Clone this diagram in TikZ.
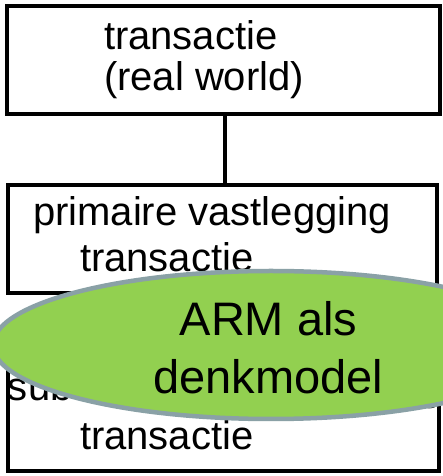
\documentclass[tikz,border=0pt]{standalone}
\usepackage{fontspec}
\setmainfont{Liberation Sans}
\usetikzlibrary{shapes.geometric}
\definecolor{armgreen}{RGB}{146,208,80}
\definecolor{armborder}{RGB}{138,161,166}
\tikzset{
  boxnode/.style={draw=black, line width=3.5pt, rectangle, inner sep=0pt, outer sep=0pt, fill=white},
  linetext/.style={anchor=base west, inner sep=0pt, outer sep=0pt, font=\fontsize{40pt}{42pt}\selectfont},
  bigtext/.style={anchor=base, inner sep=0pt, outer sep=0pt, font=\fontsize{47pt}{58pt}\selectfont},
  armoval/.style={ellipse, draw=armborder, fill=armgreen, line width=4.5pt, inner sep=0pt, outer sep=0pt},
  connector/.style={draw=black, line width=3.5pt}
}
\begin{document}
\begin{tikzpicture}[x=1pt,y=1pt]
\useasboundingbox (0,0) rectangle (443,476);
\fill[white] (0,0) rectangle (443,476);
% boxes
\node[boxnode, minimum width=433pt, minimum height=108pt] (b1) at (223.5,416) {};
\node[boxnode, minimum width=429pt, minimum height=108pt] (b2) at (222.5,237) {};
\node[boxnode, minimum width=431pt, minimum height=111pt] (b3) at (223.5,60.5) {};
\draw[connector] (b1.south -| 225,0) -- (b2.north -| 225,0);
% texts
\node[linetext] (t1a) at (104,426) {transactie};
\node[linetext] (t1b) at (104,385) {(real world)};
\node[linetext] (t2a) at (33,250) {primaire vastlegging};
\node[linetext] (t2b) at (80,204) {transactie};
\node[linetext] (t3a) at (8,75) {subsequente verwerking};
\node[linetext] (t3b) at (80,27) {transactie};
% oval
\node[armoval, minimum width=556pt, minimum height=148pt] (arm) at (271,131) {};
\node[bigtext] (arm1) at (268.5,140) {ARM als};
\node[bigtext] (arm2) at (268.5,82) {denkmodel};
\end{tikzpicture}
\end{document}
